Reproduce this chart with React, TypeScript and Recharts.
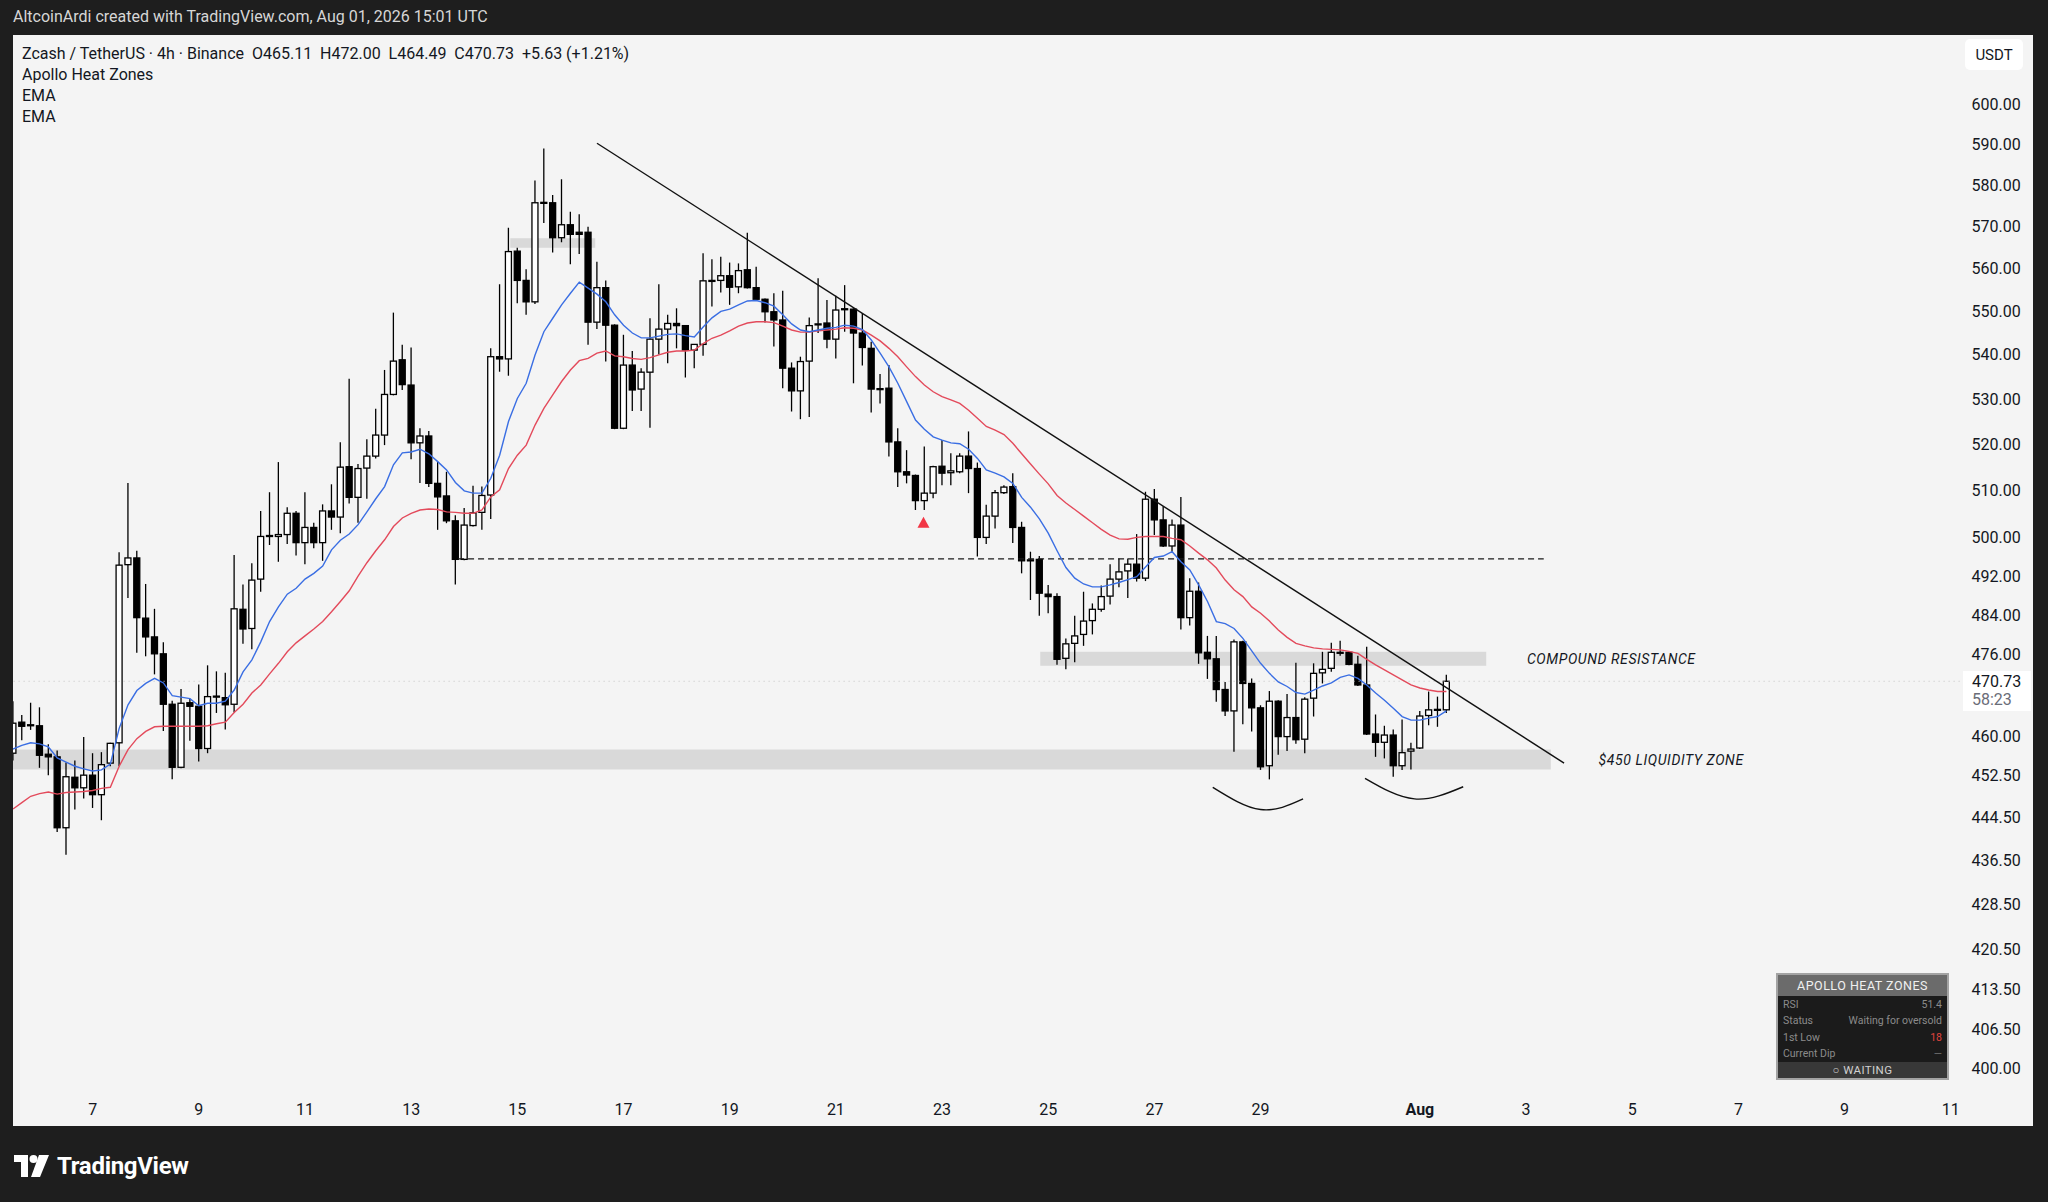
import React from 'react';
import {
  ComposedChart,
  Bar,
  Line,
  XAxis,
  YAxis,
  ReferenceArea,
  ReferenceLine,
  ReferenceDot
} from 'recharts';

// 4h candles, index 0 = Jul 5 12:00 ... index 162 = Aug 1 12:00
const openP = [
  456.7, 462.7, 462.0, 462.0, 456.5, 456.0, 442.6, 452.1, 450.1, 452.5,
  448.8, 454.8, 458.7, 494.4, 495.8, 483.4, 479.6, 476.2, 466.2, 454.0,
  466.5, 465.8, 457.6, 467.7, 467.5, 466.2, 485.2, 481.3, 491.4, 500.4,
  500.3, 500.7, 505.2, 499.0, 502.2, 499.0, 505.7, 504.4, 515.2, 508.6,
  514.9, 517.5, 522.1, 531.1, 538.9, 533.2, 520.4, 521.9, 511.6, 508.9,
  503.6, 495.5, 502.6, 505.4, 509.1, 539.6, 539.1, 564.1, 557.2, 552.2,
  575.7, 575.7, 567.3, 570.4, 568.6, 568.6, 547.5, 555.5, 546.8, 523.6,
  537.7, 532.3, 536.1, 543.6, 545.9, 547.2, 546.7, 541.1, 542.4, 557.0,
  557.2, 558.3, 555.7, 559.7, 555.5, 552.8, 549.9, 548.0, 537.0, 531.9,
  538.6, 546.9, 547.3, 543.6, 550.5, 550.5, 545.0, 541.5, 532.3, 532.5,
  520.6, 514.1, 513.3, 507.9, 509.5, 515.3, 513.9, 514.1, 517.5, 514.8,
  500.1, 504.6, 509.6, 510.9, 502.2, 495.2, 495.5, 488.3, 487.8, 475.3,
  478.3, 480.1, 482.9, 485.2, 487.9, 491.4, 493.1, 494.5, 491.6, 508.2,
  503.8, 498.3, 502.7, 483.5, 488.9, 476.5, 475.2, 469.1, 464.9, 478.6,
  470.3, 465.5, 454.3, 466.8, 459.9, 463.6, 459.4, 467.4, 472.4, 473.3,
  476.4, 476.5, 474.1, 470.0, 460.4, 458.8, 460.2, 454.3, 457.1, 457.7,
  464.0, 465.1, 465.11
];

const highP = [
  466.8, 464.1, 466.5, 465.6, 458.4, 457.2, 454.9, 455.3, 459.8, 456.7,
  456.9, 458.7, 497.0, 511.7, 497.3, 490.4, 485.3, 478.5, 466.9, 469.2,
  467.3, 470.1, 473.9, 472.7, 472.4, 496.4, 490.3, 494.7, 505.7, 509.7,
  516.2, 506.5, 505.7, 509.7, 503.2, 507.1, 511.4, 520.5, 534.6, 515.8,
  521.2, 527.9, 536.6, 549.7, 542.3, 541.7, 523.6, 523.0, 516.3, 514.1,
  504.8, 506.3, 511.1, 510.9, 541.5, 556.3, 569.7, 564.9, 559.8, 581.1,
  589.0, 577.6, 581.4, 573.5, 572.9, 569.9, 561.6, 557.2, 547.0, 544.6,
  540.9, 537.0, 548.4, 556.3, 549.2, 550.7, 546.8, 542.5, 563.6, 562.2,
  562.8, 561.4, 561.2, 568.5, 560.4, 553.0, 554.2, 554.8, 538.3, 539.6,
  548.6, 557.7, 552.6, 553.6, 556.1, 550.7, 549.6, 543.0, 535.7, 537.7,
  523.6, 518.8, 513.5, 519.6, 515.4, 521.0, 518.1, 518.1, 522.9, 516.1,
  507.0, 510.2, 511.2, 513.8, 503.4, 497.1, 496.2, 490.2, 488.5, 479.3,
  483.9, 488.8, 486.4, 490.1, 494.5, 495.7, 495.7, 500.8, 509.8, 510.4,
  506.7, 503.9, 508.7, 491.6, 490.7, 479.8, 479.8, 470.6, 479.1, 478.8,
  471.3, 466.0, 468.8, 467.0, 468.2, 474.4, 467.6, 474.3, 476.6, 478.4,
  478.8, 476.7, 475.8, 477.6, 464.2, 462.0, 461.3, 463.2, 458.7, 464.9,
  468.7, 467.7, 472.0
];

const lowP = [
  455.3, 459.2, 461.2, 453.9, 452.5, 441.8, 437.6, 446.0, 448.1, 446.3,
  444.0, 454.2, 454.2, 487.5, 476.4, 475.7, 472.1, 461.0, 451.7, 453.8,
  459.1, 455.1, 456.7, 464.5, 461.3, 464.6, 478.2, 477.1, 488.8, 498.5,
  495.0, 498.7, 496.3, 494.5, 497.8, 495.2, 501.7, 501.0, 507.3, 503.2,
  508.3, 517.0, 519.9, 530.9, 532.1, 516.8, 511.7, 510.8, 501.7, 503.1,
  490.3, 495.3, 502.4, 501.7, 504.0, 536.2, 535.3, 551.9, 549.2, 551.7,
  570.8, 563.8, 566.2, 561.0, 563.4, 542.3, 545.9, 538.5, 523.4, 523.4,
  527.4, 527.4, 523.7, 540.1, 538.1, 541.5, 534.9, 537.0, 539.8, 551.1,
  554.4, 551.5, 554.2, 555.3, 552.6, 547.4, 541.9, 532.5, 527.3, 525.6,
  526.1, 545.0, 541.5, 539.2, 545.3, 533.6, 537.6, 527.1, 529.1, 517.4,
  510.8, 511.6, 505.9, 505.9, 508.4, 511.2, 511.2, 513.8, 509.5, 496.1,
  498.7, 502.0, 509.3, 498.9, 492.6, 487.1, 483.9, 484.4, 474.0, 473.1,
  474.5, 477.8, 480.1, 484.7, 486.2, 489.7, 487.5, 490.9, 491.0, 500.6,
  498.1, 497.1, 481.1, 481.9, 474.2, 471.2, 466.7, 463.9, 457.0, 462.3,
  460.9, 453.5, 451.7, 456.4, 457.1, 458.5, 456.7, 463.8, 470.3, 472.6,
  475.8, 473.9, 469.8, 460.2, 456.0, 455.7, 452.2, 453.5, 453.6, 457.5,
  462.1, 461.8, 464.49
];

const closeP = [
  462.5, 461.9, 462.2, 456.3, 456.0, 442.6, 452.2, 450.1, 452.5, 448.8,
  454.5, 458.6, 494.3, 495.8, 483.5, 479.6, 476.2, 466.2, 454.0, 466.4,
  465.8, 457.6, 467.7, 467.8, 466.1, 485.3, 481.2, 491.2, 500.3, 500.5,
  500.7, 505.2, 499.0, 502.2, 499.0, 505.7, 504.4, 515.1, 508.6, 514.8,
  517.5, 522.1, 531.1, 538.6, 533.3, 520.4, 521.9, 511.6, 508.7, 503.6,
  495.5, 502.7, 505.3, 509.0, 539.6, 539.1, 564.0, 557.2, 552.2, 575.7,
  575.8, 567.3, 570.4, 568.1, 568.1, 547.5, 555.5, 546.8, 523.6, 537.7,
  532.1, 536.1, 543.6, 545.9, 547.2, 546.7, 541.1, 542.4, 557.1, 557.2,
  558.3, 555.6, 559.5, 555.5, 552.8, 549.9, 548.0, 537.0, 531.9, 538.5,
  546.7, 547.1, 543.6, 550.3, 550.6, 545.0, 541.7, 532.3, 532.4, 520.6,
  514.1, 513.4, 507.9, 509.5, 515.2, 513.8, 514.3, 517.5, 514.8, 500.1,
  504.6, 509.6, 510.8, 502.2, 495.2, 495.4, 488.5, 487.8, 475.1, 478.2,
  479.8, 482.8, 485.2, 487.8, 491.4, 492.9, 494.5, 491.6, 508.2, 503.8,
  498.3, 502.7, 483.5, 488.9, 476.4, 475.2, 469.1, 464.9, 478.6, 470.3,
  465.5, 454.1, 466.8, 459.9, 463.6, 459.3, 467.2, 472.3, 473.1, 476.5,
  476.5, 474.1, 470.0, 460.4, 458.8, 460.2, 454.3, 456.8, 457.5, 463.9,
  465.1, 465.2, 470.73
];

// blue (fast) EMA
const emaFast = [
  457.5, 458.2, 458.7, 458.5, 457.9, 455.8, 455.0, 454.2, 453.7, 453.3,
  453.5, 454.6, 461.5, 466.1, 468.9, 470.3, 471.3, 470.4, 467.9, 467.6,
  467.3, 465.9, 466.4, 466.4, 466.8, 469.0, 472.6, 475.0, 478.6, 482.7,
  485.7, 488.3, 489.5, 491.4, 492.6, 494.1, 497.5, 499.5, 500.8, 502.8,
  505.5, 508.3, 510.9, 515.6, 518.2, 518.4, 519.0, 518.0, 516.3, 514.5,
  511.8, 510.0, 509.5, 509.5, 512.7, 517.7, 525.1, 530.2, 533.6, 540.0,
  545.3, 548.4, 551.5, 554.2, 556.8, 555.4, 554.0, 552.2, 549.2, 546.8,
  545.0, 543.9, 543.9, 544.3, 544.7, 544.8, 544.4, 544.1, 546.4, 548.5,
  550.0, 550.5, 551.5, 552.4, 552.5, 552.0, 551.2, 549.2, 547.1, 545.7,
  545.3, 545.7, 546.1, 546.3, 546.8, 546.6, 545.8, 543.4, 540.4, 537.3,
  533.6, 529.5, 525.4, 523.4, 521.7, 521.0, 520.4, 520.2, 519.0, 517.0,
  514.5, 513.8, 513.0, 511.6, 508.6, 506.5, 504.0, 501.0, 497.3, 493.8,
  491.6, 490.4, 489.8, 489.8, 490.2, 490.7, 491.3, 491.9, 493.9, 495.9,
  496.2, 497.1, 495.0, 493.3, 490.2, 486.8, 482.7, 482.3, 481.3, 479.3,
  476.8, 474.3, 472.3, 470.6, 469.7, 468.5, 468.2, 469.0, 469.8, 470.4,
  471.5, 472.0, 471.3, 470.0, 468.4, 467.0, 465.4, 463.8, 463.1, 463.1,
  463.5, 463.8, 464.9
];

// red (slow) EMA
const emaSlow = [
  446.1, 447.3, 448.5, 449.0, 449.3, 448.9, 449.2, 449.3, 449.4, 449.6,
  450.0, 450.2, 454.2, 457.4, 459.5, 460.9, 461.8, 461.9, 461.9, 461.9,
  461.9, 461.9, 462.0, 462.4, 462.7, 464.6, 466.2, 468.4, 470.0, 472.2,
  474.3, 476.6, 478.4, 479.8, 481.2, 482.7, 484.7, 486.8, 489.0, 492.0,
  494.8, 497.3, 499.6, 502.4, 504.2, 505.2, 505.9, 506.1, 506.0, 505.5,
  505.4, 505.2, 505.2, 505.9, 508.7, 510.2, 514.8, 517.7, 519.9, 524.3,
  528.0, 531.0, 534.0, 536.6, 538.7, 539.2, 540.4, 540.9, 539.8, 539.6,
  539.2, 539.0, 539.4, 540.0, 540.6, 540.9, 540.9, 541.1, 542.6, 543.8,
  544.5, 545.5, 546.6, 547.3, 547.6, 547.6, 547.4, 546.6, 545.7, 545.2,
  545.2, 545.5, 545.7, 545.9, 546.2, 546.1, 545.7, 544.5, 543.2, 541.5,
  539.6, 537.3, 535.1, 533.2, 531.7, 530.6, 529.9, 529.1, 527.6, 525.8,
  524.0, 523.2, 522.2, 520.3, 518.0, 515.8, 513.6, 511.5, 509.0, 507.4,
  506.0, 504.6, 503.2, 501.8, 500.6, 499.8, 499.7, 500.1, 500.3, 500.3,
  500.3, 499.9, 499.6, 498.3, 496.8, 495.4, 493.7, 491.2, 489.2, 487.8,
  485.7, 484.4, 482.8, 481.0, 479.5, 478.3, 477.8, 477.4, 477.2, 477.1,
  477.0, 476.7, 476.3, 475.1, 474.0, 473.0, 472.0, 471.0, 470.0, 469.4,
  469.0, 468.7, 468.7
];

const xTickIdx = [9, 21, 33, 45, 57, 69, 81, 93, 105, 117, 129, 141, 159, 171, 183, 195, 207, 219];
const xTickLabels = ['7', '9', '11', '13', '15', '17', '19', '21', '23', '25', '27', '29', 'Aug', '3', '5', '7', '9', '11'];
const yTicks = [600, 590, 580, 570, 560, 550, 540, 530, 520, 510, 500, 492, 484, 476, 460, 452.5, 444.5, 436.5, 428.5, 420.5, 413.5, 406.5, 400];

// drawings (bar index, price)
const trendLine = [{ i: 66, p: 590.3 }, { i: 175.3, p: 454.8 }];
const levelLine = [{ i: 50.3, p: 495.6 }, { i: 173, p: 495.6 }];
const zones = [
  { x1: 0, x2: 173.8, y1: 453.6, y2: 457.4 },
  { x1: 116.1, x2: 166.5, y1: 473.8, y2: 476.6 },
  { x1: 56.2, x2: 65.8, y1: 564.9, y2: 567.2 }
];
const arcLeft = [{ i: 135.6, p: 450.2 }, { i: 141, p: 446.0 }, { i: 145.8, p: 448.0 }];
const arcRight = [{ i: 152.8, p: 451.9 }, { i: 158.4, p: 448.0 }, { i: 163.9, p: 450.3 }];
const signal = { i: 102.9, p: 503.2 };
const lastPrice = 470.73;
const notes = [
  { i: 171.1, p: 475.2, text: 'COMPOUND RESISTANCE' },
  { i: 179.2, p: 455.4, text: '$450 LIQUIDITY ZONE' }
];

const tableRows = [
  { k: 'RSI', v: '51.4', c: '#8b8b8b' },
  { k: 'Status', v: 'Waiting for oversold', c: '#8b8b8b' },
  { k: '1st Low', v: '18', c: '#e0443e' },
  { k: 'Current Dip', v: '—', c: '#6f6f6f' }
];

const rows = openP.map((o, i) => ({
  i,
  o,
  h: highP[i],
  l: lowP[i],
  c: closeP[i],
  fast: emaFast[i],
  slow: emaSlow[i]
}));

const FONT = "Roboto, 'Liberation Sans', Arial, sans-serif";
const BODY_W = 6;

const Candle = (props: any) => {
  const { x, y, width, height, payload } = props;
  if (!payload || x == null || y == null) return null;
  const { o, h, l, c } = payload;
  const top = Math.min(y, y + height);
  const span = Math.abs(height);
  const lh = Math.log(h);
  const ll = Math.log(l);
  const py = (v: number) => (lh === ll ? top : top + ((lh - Math.log(v)) / (lh - ll)) * span);
  const cx = x + (width || 0) / 2;
  const up = c >= o;
  const bt = py(Math.max(o, c));
  const bb = py(Math.min(o, c));
  return (
    <g>
      <line x1={cx} x2={cx} y1={top} y2={top + span} stroke="#000" strokeWidth={1.3} />
      <rect
        x={cx - BODY_W / 2}
        y={bt}
        width={BODY_W}
        height={Math.max(bb - bt, 1)}
        fill={up ? '#ffffff' : '#000000'}
        stroke="#000"
        strokeWidth={1.3}
      />
    </g>
  );
};

const XTick = (props: any) => {
  const { x, y, payload } = props;
  const k = xTickIdx.indexOf(payload.value);
  const label = k >= 0 ? xTickLabels[k] : '';
  return (
    <text x={x} y={y} dy={13} textAnchor="middle" fontSize={16} fontWeight={label === 'Aug' ? 700 : 400} fill="#131722" fontFamily={FONT}>
      {label}
    </text>
  );
};

const YTick = (props: any) => {
  const { x, y, payload } = props;
  return (
    <text x={x + 4} y={y} dy={5.5} textAnchor="start" fontSize={16} fill="#131722" fontFamily={FONT}>
      {Number(payload.value).toFixed(2)}
    </text>
  );
};

const Triangle = (props: any) => {
  const { cx, cy } = props;
  return <path d={`M${cx},${cy - 6} L${cx + 6},${cy + 5} L${cx - 6},${cy + 5} Z`} fill="#f23645" />;
};

const noteShape = (text: string) => (props: any) => (
  <text x={props.cx} y={props.cy} dy={5} fontSize={14} fontStyle="italic" letterSpacing={0.6} fill="#131722" fontFamily={FONT}>
    {text}
  </text>
);

const App: React.FC = () => {
  return (
    <div style={{ position: 'absolute', left: 0, top: 0, width: 2048, height: 1202, background: '#1e1e1e', fontFamily: FONT, overflow: 'hidden' }}>
      <div style={{ position: 'absolute', left: 13, top: 7, fontSize: 16, color: '#d6d6d6', lineHeight: '20px' }}>
        AltcoinArdi created with TradingView.com, Aug 01, 2026 15:01 UTC
      </div>

      <div style={{ position: 'absolute', left: 13, top: 35, width: 2020, height: 1091, background: '#f4f4f4' }}>
        <ComposedChart width={2020} height={1091} data={rows} margin={{ top: 0, right: 0, bottom: 0, left: 0 }}>
          <XAxis
            dataKey="i"
            type="number"
            domain={[0, 220]}
            allowDataOverflow
            ticks={xTickIdx}
            tick={<XTick />}
            axisLine={false}
            tickLine={false}
            height={32}
            interval={0}
          />
          <YAxis
            orientation="right"
            scale="log"
            domain={[395.7, 617.8]}
            allowDataOverflow
            ticks={yTicks}
            tick={<YTick />}
            axisLine={false}
            tickLine={false}
            width={73.4}
            interval={0}
          />
          {zones.map((z, k) => (
            <ReferenceArea key={k} x1={z.x1} x2={z.x2} y1={z.y1} y2={z.y2} fill="#d9d9d9" fillOpacity={1} stroke="none" />
          ))}
          <ReferenceLine y={lastPrice} stroke="#c4c4c4" strokeDasharray="1 4" strokeWidth={1} />
          <ReferenceLine
            segment={[{ x: levelLine[0].i, y: levelLine[0].p }, { x: levelLine[1].i, y: levelLine[1].p }]}
            stroke="#1a1a1a"
            strokeDasharray="6 4"
            strokeWidth={1.3}
          />
          <Line dataKey="slow" stroke="#e34a5b" strokeWidth={1.4} dot={false} activeDot={false} isAnimationActive={false} />
          <Line dataKey="fast" stroke="#3a6ee3" strokeWidth={1.4} dot={false} activeDot={false} isAnimationActive={false} />
          <Bar dataKey={(d: any) => [d.l, d.h]} barSize={6} shape={Candle} isAnimationActive={false} />
          <ReferenceLine
            segment={[{ x: trendLine[0].i, y: trendLine[0].p }, { x: trendLine[1].i, y: trendLine[1].p }]}
            stroke="#111111"
            strokeWidth={1.4}
          />
          <Line data={arcLeft} dataKey="p" type="natural" stroke="#111" strokeWidth={1.4} dot={false} activeDot={false} isAnimationActive={false} />
          <Line data={arcRight} dataKey="p" type="natural" stroke="#111" strokeWidth={1.4} dot={false} activeDot={false} isAnimationActive={false} />
          <ReferenceDot x={signal.i} y={signal.p} r={6} shape={Triangle} />
          {notes.map((n, k) => (
            <ReferenceDot key={k} x={n.i} y={n.p} r={1} shape={noteShape(n.text)} />
          ))}
        </ComposedChart>

        <div style={{ position: 'absolute', left: 9, top: 8, fontSize: 16, lineHeight: '21px', color: '#131722' }}>
          <div>
            Zcash / TetherUS · 4h · Binance&nbsp;&nbsp;O465.11&nbsp;&nbsp;H472.00&nbsp;&nbsp;L464.49&nbsp;&nbsp;C470.73&nbsp;&nbsp;+5.63 (+1.21%)
          </div>
          <div>Apollo Heat Zones</div>
          <div>EMA</div>
          <div>EMA</div>
        </div>

        <div style={{ position: 'absolute', left: 1952, top: 4, width: 58, height: 31, background: '#ffffff', borderRadius: 5, fontSize: 15, color: '#131722', display: 'flex', alignItems: 'center', justifyContent: 'center' }}>
          USDT
        </div>

        <div style={{ position: 'absolute', left: 1950, top: 636, width: 68, height: 40, background: '#ffffff', fontSize: 16, lineHeight: '18px', paddingTop: 2, boxSizing: 'border-box' }}>
          <div style={{ paddingLeft: 9, color: '#131722' }}>470.73</div>
          <div style={{ paddingLeft: 9, color: '#6a6d78' }}>58:23</div>
        </div>

        <div style={{ position: 'absolute', left: 1763, top: 938, width: 173, height: 107, border: '2px solid #a3a3a3', boxSizing: 'border-box', background: '#1b1b1b', display: 'flex', flexDirection: 'column' }}>
          <div style={{ height: 21, background: '#6b6b6b', color: '#f0f0f0', fontSize: 12.5, letterSpacing: 0.5, display: 'flex', alignItems: 'center', justifyContent: 'center' }}>
            APOLLO HEAT ZONES
          </div>
          {tableRows.map((r) => (
            <div key={r.k} style={{ height: 16.5, display: 'flex', alignItems: 'center', justifyContent: 'space-between', padding: '0 5px', fontSize: 10.5, color: '#8b8b8b' }}>
              <span>{r.k}</span>
              <span style={{ color: r.c }}>{r.v}</span>
            </div>
          ))}
          <div style={{ flex: 1, background: '#383838', color: '#d0d0d0', fontSize: 11.5, letterSpacing: 0.4, display: 'flex', alignItems: 'center', justifyContent: 'center' }}>
            ○ WAITING
          </div>
        </div>
      </div>

      <div style={{ position: 'absolute', left: 14, top: 1152, display: 'flex', alignItems: 'center', gap: 7 }}>
        <svg width={36} height={22} viewBox="0 0 36 22">
          <path d="M0 0 H14 V22 H7 V7 H0 Z" fill="#ffffff" />
          <circle cx={19.5} cy={4} r={4} fill="#ffffff" />
          <path d="M25 0 H35 L26 22 H17 Z" fill="#ffffff" />
        </svg>
        <span style={{ color: '#ffffff', fontSize: 24, fontWeight: 700, letterSpacing: -0.3 }}>TradingView</span>
      </div>
    </div>
  );
};

export default App;
